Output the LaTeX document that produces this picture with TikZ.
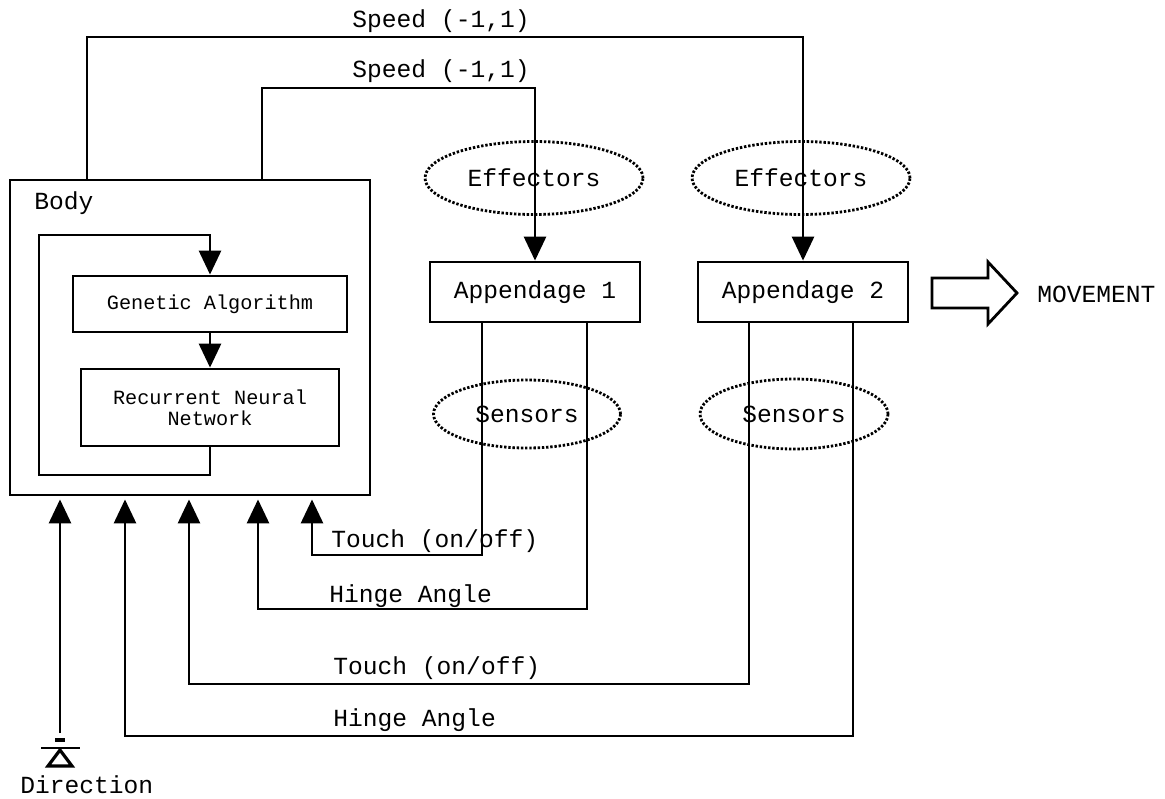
\documentclass[tikz,border=0pt]{standalone}
\usepackage{fontspec}
\setmainfont{Liberation Mono}
\usetikzlibrary{arrows.meta,shapes.geometric}
\begin{document}
\begin{tikzpicture}[x=0.5pt,y=-0.5pt,
  font=\fontsize{12.3}{14}\selectfont,
  line width=1.4pt,
  box/.style={draw,rectangle,inner sep=0pt,align=center},
  small/.style={font=\fontsize{10.1}{10.5}\selectfont},
  cloud/.style={draw,ellipse,line width=1.4pt,dash pattern=on 1.2pt off 0.9pt,inner sep=0pt},
  arr/.style={-{Triangle[length=12pt,width=11pt]}},
  intobody/.style={arr,shorten >=1.5pt},
  lbl/.style={anchor=base west,inner sep=0pt}]
\useasboundingbox (0,0) rectangle (1165,798);

% body with its controller
\node[box,minimum width=180pt,minimum height=157.5pt] (body) at (190,337.5) {};
\node[lbl] (bodylbl) at (33,209) {Body};
\node[box,small,minimum width=137pt,minimum height=28pt] (ga) at (210,304) {Genetic Algorithm};
\node[box,small,minimum width=129pt,minimum height=38.5pt] (rnn) at (210,407.5) {Recurrent Neural\\Network};
\draw[arr] (ga.south) -- (rnn.north);
\draw[arr] (rnn.south) |- (39,475) |- (210,235) -- (ga.north);

% effectors and sensors
\node[cloud,minimum width=109pt,minimum height=36.5pt] (eff1) at (534,178) {Effectors};
\node[cloud,minimum width=109pt,minimum height=36.5pt] (eff2) at (801,178) {Effectors};
\node[cloud,minimum width=93.5pt,minimum height=34pt] (sen1) at (527,414) {Sensors};
\node[cloud,minimum width=94pt,minimum height=35pt] (sen2) at (794,414) {Sensors};

% appendages
\node[box,minimum width=105pt,minimum height=30pt] (app1) at (535,292) {Appendage 1};
\node[box,minimum width=105pt,minimum height=30pt] (app2) at (803,292) {Appendage 2};

% speed commands
\draw[arr] (body.north -| 87,0) |- (803,37) -- (app2.north);
\draw[arr] (body.north -| 262,0) |- (535,88) -- (app1.north);
\node[anchor=base,inner sep=0pt] (spd2) at (441,27) {Speed (-1,1)};
\node[anchor=base,inner sep=0pt] (spd1) at (441,77) {Speed (-1,1)};

% sensor feedback
\draw[intobody] (app1.south -| 482,0) |- (312,555) -- (body.south -| 312,0);
\draw[intobody] (app1.south -| 587,0) |- (258,609) -- (body.south -| 258,0);
\draw[intobody] (app2.south -| 749,0) |- (189,684) -- (body.south -| 189,0);
\draw[intobody] (app2.south -| 853,0) |- (125,736) -- (body.south -| 125,0);
\node[lbl] (touch1) at (330,547) {Touch (on/off)};
\node[lbl] (hinge1) at (328,602) {Hinge Angle};
\node[lbl] (touch2) at (332,674) {Touch (on/off)};
\node[lbl] (hinge2) at (332,726) {Hinge Angle};

% direction input
\coordinate (dirpin) at (60,733);
\draw[intobody] (dirpin) -- (body.south -| dirpin);
\draw[line width=2pt] (55,740) -- (65,740);
\draw (41,748) -- (80,748);
\draw[line width=1.6pt,line join=miter] (60,750) -- (48,766) -- (72,766) -- cycle;
\node[lbl] (dirlbl) at (19,793) {Direction};

% movement output
\draw[line join=miter] (932,278) -- (988,278) -- (988,262) -- (1017,293)
  -- (988,324) -- (988,308) -- (932,308) -- cycle;
\node[lbl] (move) at (1036,302) {MOVEMENT};
\end{tikzpicture}
\end{document}
